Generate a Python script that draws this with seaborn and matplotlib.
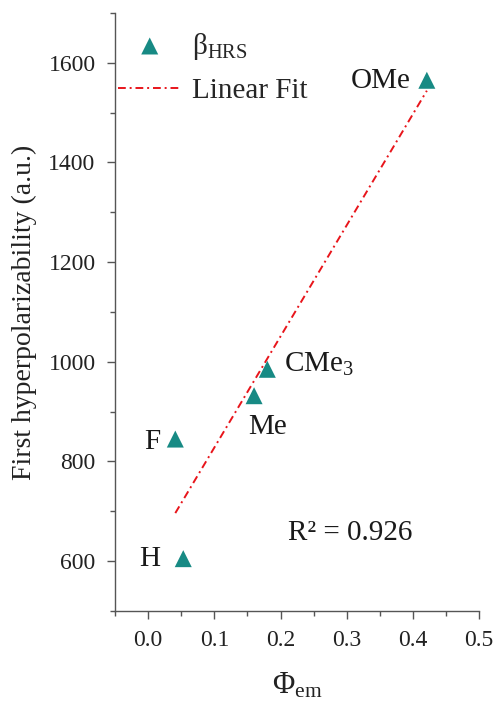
import matplotlib
matplotlib.use("Agg")
import matplotlib.pyplot as plt
from matplotlib.ticker import MultipleLocator
import seaborn as sns
import pandas as pd

labels = ["H", "F", "Me", "CMe3", "OMe"]
phi_em = [0.053, 0.041, 0.160, 0.180, 0.421]
beta_hrs = [605, 845, 932, 985, 1565]

df = pd.DataFrame({"phi": phi_em, "beta": beta_hrs, "label": labels})

sns.set_theme(style="ticks")
plt.rcParams["font.family"] = ["Liberation Serif", "DejaVu Serif"]
plt.rcParams["mathtext.fontset"] = "custom"
plt.rcParams["mathtext.rm"] = "Liberation Serif"
plt.rcParams["mathtext.it"] = "Liberation Serif:italic"

teal = "#178a84"
fig = plt.figure(figsize=(4.96, 7.06), dpi=100)
ax = fig.add_axes([0.232, 0.1346, 0.734, 0.847])

sns.regplot(data=df, x="phi", y="beta", scatter=False, ci=None, ax=ax,
            line_kws=dict(color="#e8151b", lw=1.4, ls=(0, (4, 2, 1, 2))),
            label="Linear Fit")
sns.scatterplot(data=df, x="phi", y="beta", marker="^", s=150, color=teal,
                edgecolor="none", ax=ax, label=r"$\mathregular{β_{HRS}}$", zorder=3)

ax.set_xlim(-0.05, 0.5)
ax.set_ylim(500, 1700)
ax.xaxis.set_major_locator(MultipleLocator(0.1))
ax.xaxis.set_minor_locator(MultipleLocator(0.05))
ax.yaxis.set_major_locator(MultipleLocator(200))
ax.yaxis.set_minor_locator(MultipleLocator(100))
ax.xaxis.set_major_formatter(matplotlib.ticker.FormatStrFormatter("%.1f"))
sns.despine(ax=ax)
for s in ["left", "bottom"]:
    ax.spines[s].set_color("#555555")
    ax.spines[s].set_linewidth(1.0)
ax.tick_params(which="major", length=6, width=1.0, color="#555555",
               labelsize=17, labelcolor="#222222", pad=8)
ax.tick_params(which="minor", length=3.5, width=1.0, color="#555555")

ax.set_xlabel(r"$\mathregular{Φ_{em}}$", fontsize=22, labelpad=14, color="#222222")
ax.set_ylabel("First hyperpolarizability (a.u.)", fontsize=20, labelpad=8, color="#222222")

txt_kw = dict(fontsize=21, color="#1a1a1a", va="center")
ax.text(0.396, 1564, "OMe", ha="right", **txt_kw)
ax.text(0.205, 994, r"$\mathregular{CMe_3}$", ha="left", **txt_kw)
ax.text(0.180, 869, "Me", ha="center", **txt_kw)
ax.text(0.018, 839, "F", ha="right", **txt_kw)
ax.text(0.018, 604, "H", ha="right", **txt_kw)
ax.text(0.211, 656, "R² = 0.926", ha="left", **txt_kw)

h, l = ax.get_legend_handles_labels()
order = [l.index(r"$\mathregular{β_{HRS}}$"), l.index("Linear Fit")]
ax.legend([h[i] for i in order], [l[i] for i in order], loc="upper left",
          bbox_to_anchor=(-0.025, 0.99), frameon=False, fontsize=21,
          handlelength=2.2, handletextpad=0.35, labelspacing=0.55,
          borderaxespad=0.0)

fig.savefig("out.png", dpi=100, facecolor="white")
